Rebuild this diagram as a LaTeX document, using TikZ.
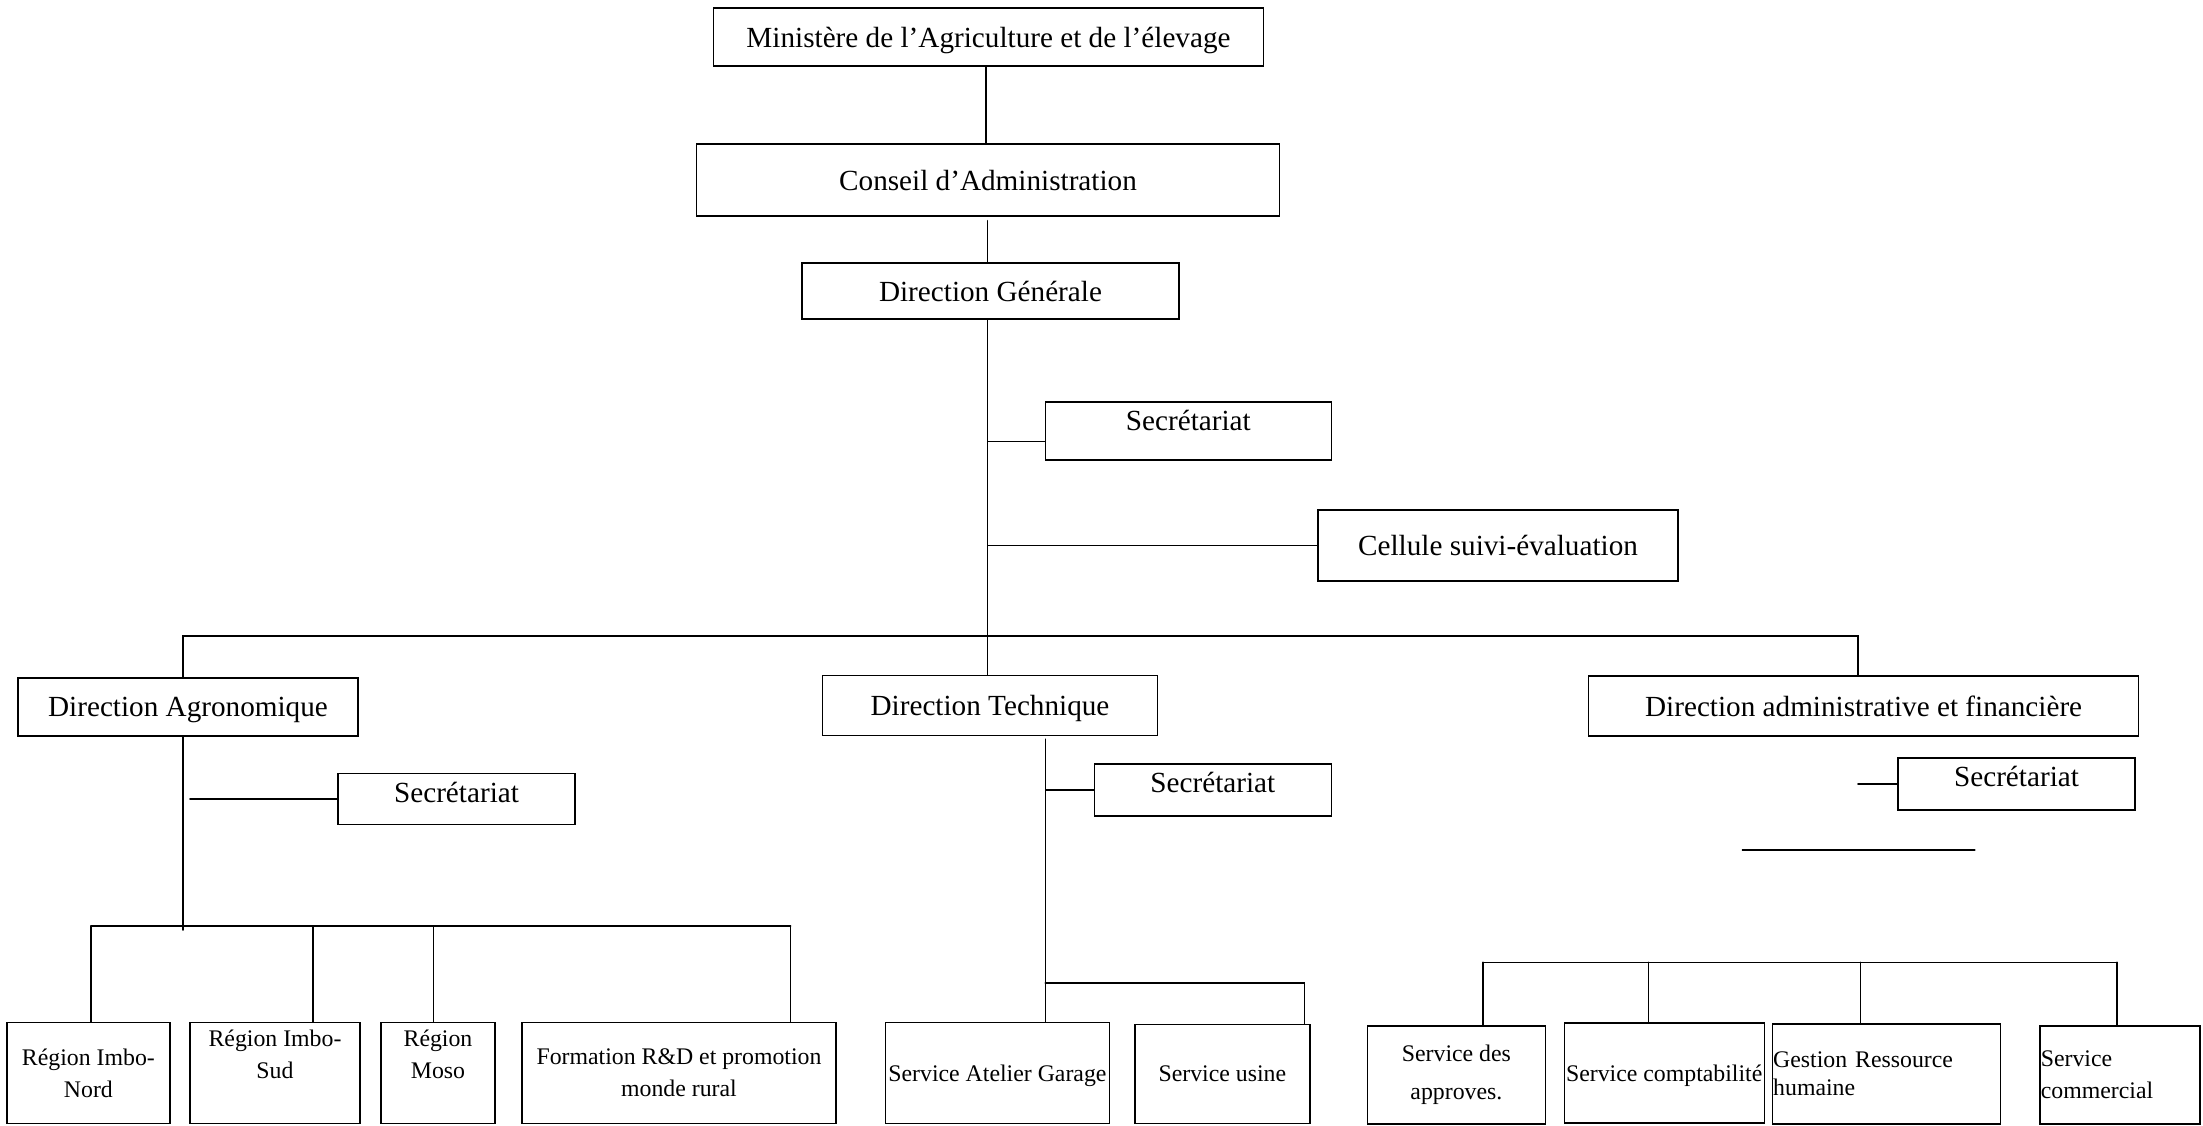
\documentclass[tikz,border=0pt]{standalone}
\usepackage{fontspec}
\setmainfont{Liberation Serif}
\usepackage{tikz}

\begin{document}
\begin{tikzpicture}[x=1pt,y=-1pt,line width=1.6pt,line cap=round,
  font=\fontsize{29.2}{35}\selectfont,
  box/.style 2 args={draw,line width=1.4pt,minimum width=#1,minimum height=#2,inner sep=1pt},
  oneline/.style={text depth=0pt},
  small/.style={font=\fontsize{23.8}{32}\selectfont,align=center},
  toptext/.style={anchor=north,inner sep=8.5pt}]
\useasboundingbox (0,0) rectangle (2203,1125);
% top of the chart
\node[box={550pt}{58pt},oneline] (min) at (988.5,37) {Ministère de l’Agriculture et de l’élevage};
\node[box={583pt}{72pt},oneline] (ca) at (988,180) {Conseil d’Administration};
\node[box={377pt}{56pt},oneline] (dg) at (990.5,291) {Direction Générale};
\node[box={286pt}{58pt},label={[toptext]north:Secrétariat}] (sec0) at (1188.3,431) {};
\node[box={360pt}{71pt},oneline] (cse) at (1498,545.3) {Cellule suivi-évaluation};
% directions
\node[box={340pt}{58pt},oneline] (da) at (188,707) {Direction Agronomique};
\node[box={335pt}{60pt},oneline] (dt) at (990,705.5) {Direction Technique};
\node[box={550pt}{60pt},oneline] (daf) at (1863.6,706) {Direction administrative et financière};
\node[box={237pt}{51pt},label={[toptext]north:Secrétariat}] (secda) at (456.5,798.7) {};
\node[box={237pt}{52pt},label={[toptext]north:Secrétariat}] (secdt) at (1212.8,790) {};
\node[box={237pt}{52pt},label={[toptext]north:Secrétariat}] (secdaf) at (2016.5,784) {};
% regions and services
\node[box={163pt}{101pt},small] (r1) at (88.4,1073) {Région Imbo-\\Nord};
\node[box={170pt}{101pt},label={[small,toptext,inner sep=7pt]north:Région Imbo-\\Sud}] (r2) at (275,1073) {};
\node[box={114pt}{101pt},label={[small,toptext,inner sep=7pt]north:Région\\Moso}] (r3) at (438,1073) {};
\node[box={314pt}{101pt},small] (r4) at (679,1073) {Formation R\&D et promotion\\monde rural};
\node[box={224pt}{101pt},small,oneline] (s1) at (997.4,1073) {Service Atelier Garage};
\node[box={175pt}{99pt},small,oneline] (s2) at (1222.3,1074) {Service usine};
\node[box={178pt}{98pt},small,font=\fontsize{23.8}{38}\selectfont] (s3) at (1456.4,1075) {Service des\\approves.};
\node[box={200pt}{100pt},small,oneline] (s4) at (1664.2,1073) {Service comptabilité};
\node[box={228pt}{100pt},small,align=left,text width=226pt,font=\fontsize{23.8}{28}\selectfont] (s5) at (1886.2,1074) {Gestion Ressource\\humaine};
\node[box={160pt}{98pt},small,align=left,text width=158pt] (s6) at (2119.8,1075) {Service\\commercial};
% junction points
\coordinate (top) at (986,144);
\coordinate (trunk) at (987.5,636);
\coordinate (busL) at (183,636);
\coordinate (busR) at (1858,636);
\coordinate (daB) at (183,930);
\coordinate (daS) at (190,926);
\coordinate (dr1) at (91,926);
\coordinate (dr2) at (313,926);
\coordinate (dr3) at (433.5,926);
\coordinate (dr4) at (790.6,926);
\coordinate (dtA) at (1045.3,982.7);
\coordinate (dtB) at (1304.5,982.7);
\coordinate (ds1) at (1483,962.3);
\coordinate (ds2) at (1648.5,962.3);
\coordinate (ds3) at (1860.6,962.3);
\coordinate (ds4) at (2116.8,962.3);
\coordinate (fl1) at (1742.4,850);
\coordinate (fl2) at (1974.8,850);
% links
\draw (top |- min.south) -- (top |- ca.north);
\draw[shorten <=4pt] (trunk |- ca.south) -- (trunk |- dg.north);
\draw (trunk |- dg.south) -- (trunk |- dt.north);
\draw ([yshift=-10.5pt]sec0.west) -| (trunk);
\draw (cse.west) -| (trunk);
\draw (busL |- da.north) -- (busL) -- (busR) -- (busR |- daf.north);
\draw (busL |- da.south) -- (daB);
\draw (secda.west) -- (daS |- secda.west);
\draw (dr1) -- (dr4);
\draw (dr1) -- (dr1 |- r1.north);
\draw (dr2) -- (dr2 |- r2.north);
\draw (dr3) -- (dr3 |- r3.north);
\draw (dr4) -- (dr4 |- r4.north);
\draw[shorten <=3pt] (dtA |- dt.south) -- (dtA |- s1.north);
\draw (secdt.west) -| (dtA);
\draw (dtA) -- (dtB) -- (dtB |- s2.north);
\draw (secdaf.west) -- (busR |- secdaf.west);
\draw (fl1) -- (fl2);
\draw (ds1) -- (ds4);
\draw (ds1) -- (ds1 |- s3.north);
\draw (ds2) -- (ds2 |- s4.north);
\draw (ds3) -- (ds3 |- s5.north);
\draw (ds4) -- (ds4 |- s6.north);
\end{tikzpicture}
\end{document}
